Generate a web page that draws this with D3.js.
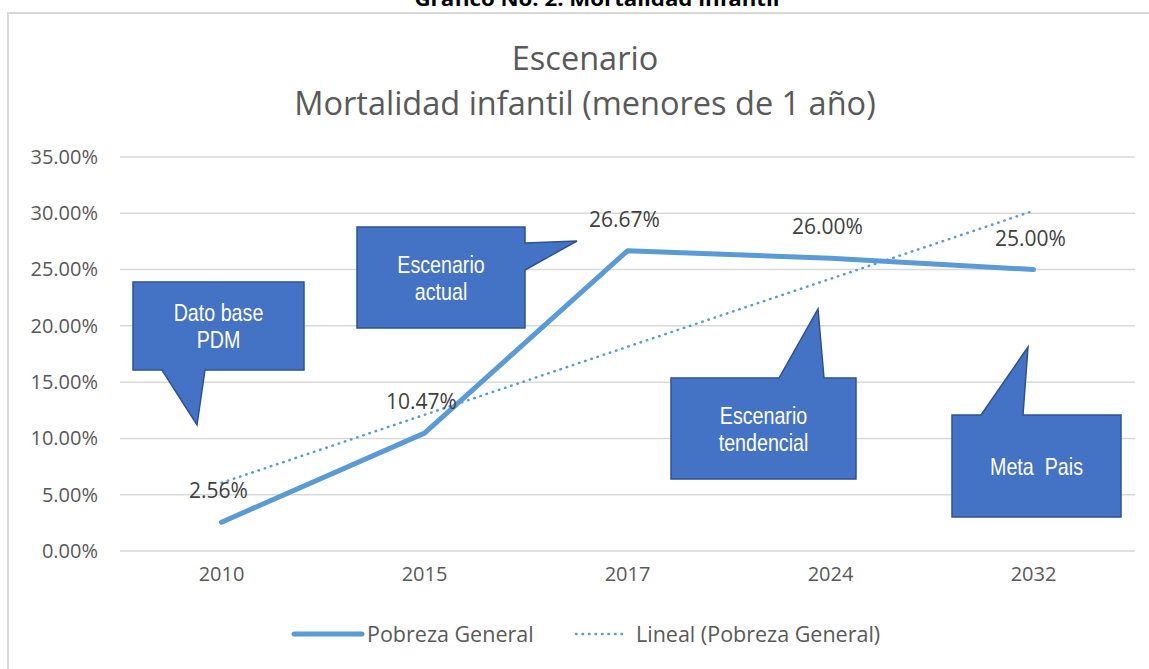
<!DOCTYPE html>
<html>
<head>
<meta charset="utf-8">
<script src="https://cdn.jsdelivr.net/npm/d3@7"></script>
<style>
  body { margin: 0; background: #fff; }
  svg { display: block; }
</style>
</head>
<body>
<script>
const years = ["2010", "2015", "2017", "2024", "2032"];
const pobreza = [2.56, 10.47, 26.67, 26.00, 25.00];
const yTicks = [0, 5, 10, 15, 20, 25, 30, 35];
const titleLines = ["Escenario", "Mortalidad infantil (menores de 1 año)"];
const seriesNames = ["Pobreza General", "Lineal (Pobreza General)"];

// callout shapes (page layout, not data): box + pointer tip
const callouts = [
  { lines: ["Dato base", "PDM"], box: [133, 282, 304, 370], side: "bottom", base: [162, 205], tip: [197, 425] },
  { lines: ["Escenario", "actual"], box: [357, 227, 525, 328], side: "right", base: [243, 270], tip: [577, 241] },
  { lines: ["Escenario", "tendencial"], box: [671, 378, 856, 479], side: "top", base: [779, 824], tip: [818, 309] },
  { lines: ["Meta  Pais"], box: [952, 415, 1121, 517], side: "top", base: [981, 1023], tip: [1028, 347] }
];

const width = 1149, height = 669;
const blue = "#5b9bd5", grey = "#595959";
const font = "'Open Sans', 'Noto Sans', sans-serif";

const svg = d3.select("body").append("svg")
  .attr("width", width)
  .attr("height", height)
  .style("font-family", font);

svg.append("text")
  .attr("x", 597).attr("y", 6)
  .attr("text-anchor", "middle")
  .attr("font-weight", "bold")
  .attr("font-size", 20)
  .attr("textLength", 365)
  .attr("lengthAdjust", "spacingAndGlyphs")
  .attr("fill", "#000")
  .text("Gráfico No. 2. Mortalidad infantil");

// chart frame (runs off the page right and bottom)
svg.append("rect")
  .attr("x", 8).attr("y", 13)
  .attr("width", 1200).attr("height", 700)
  .attr("fill", "none")
  .attr("stroke", "#d9d9d9")
  .attr("stroke-width", 2);

svg.selectAll("text.title")
  .data(titleLines)
  .join("text")
  .attr("class", "title")
  .attr("x", 585)
  .attr("y", (d, i) => 70 + i * 45)
  .attr("text-anchor", "middle")
  .attr("font-size", 32.5)
  .attr("fill", grey)
  .text(d => d);

const x = d3.scaleBand().domain(years).range([120, 1135]);
const y = d3.scaleLinear().domain([0, 35]).range([551, 157]);

// gridlines
svg.append("g")
  .selectAll("line")
  .data(yTicks)
  .join("line")
  .attr("x1", 120).attr("x2", 1135)
  .attr("y1", d => y(d)).attr("y2", d => y(d))
  .attr("stroke", "#d9d9d9")
  .attr("stroke-width", 1.5);

const yAxis = svg.append("g")
  .attr("transform", "translate(104,0)")
  .call(d3.axisLeft(y).tickValues(yTicks).tickSize(0).tickPadding(6)
    .tickFormat(d => d.toFixed(2) + "%"));
yAxis.select(".domain").remove();
yAxis.selectAll("text").attr("font-size", 20).attr("fill", grey).attr("font-family", font);

const xAxis = svg.append("g")
  .attr("transform", "translate(0,567)")
  .call(d3.axisBottom(x).tickSize(0).tickPadding(0));
xAxis.select(".domain").remove();
xAxis.selectAll("text").attr("font-size", 20).attr("fill", grey).attr("font-family", font);

const cx = d => x(d) + x.bandwidth() / 2;

// linear trend
const n = pobreza.length;
const xs = d3.range(1, n + 1);
const mx = d3.mean(xs), my = d3.mean(pobreza);
const slope = d3.sum(xs, (v, i) => (v - mx) * (pobreza[i] - my)) / d3.sum(xs, v => (v - mx) ** 2);
const icpt = my - slope * mx;
const trend = xs.map(v => icpt + slope * v);

svg.append("path")
  .datum(years.map((d, i) => [cx(d), y(trend[i])]))
  .attr("d", d3.line())
  .attr("fill", "none")
  .attr("stroke", blue)
  .attr("stroke-width", 2.5)
  .attr("stroke-linecap", "round")
  .attr("stroke-dasharray", "0.5 6");

svg.append("path")
  .datum(years.map((d, i) => [cx(d), y(pobreza[i])]))
  .attr("d", d3.line())
  .attr("fill", "none")
  .attr("stroke", blue)
  .attr("stroke-width", 5)
  .attr("stroke-linecap", "round")
  .attr("stroke-linejoin", "round");

svg.append("g")
  .selectAll("text")
  .data(pobreza)
  .join("text")
  .attr("x", (d, i) => cx(years[i]) - 3)
  .attr("y", d => y(d) - 24)
  .attr("text-anchor", "middle")
  .attr("font-size", 21)
  .attr("fill", "#404040")
  .text(d => d.toFixed(2) + "%");

// callouts
function calloutPath(c) {
  const [x0, y0, x1, y1] = c.box;
  const p = d3.path();
  p.moveTo(x0, y0);
  if (c.side === "top") {
    p.lineTo(c.base[0], y0); p.lineTo(c.tip[0], c.tip[1]); p.lineTo(c.base[1], y0);
  }
  p.lineTo(x1, y0);
  if (c.side === "right") {
    p.lineTo(x1, c.base[0]); p.lineTo(c.tip[0], c.tip[1]); p.lineTo(x1, c.base[1]);
  }
  p.lineTo(x1, y1);
  if (c.side === "bottom") {
    p.lineTo(c.base[1], y1); p.lineTo(c.tip[0], c.tip[1]); p.lineTo(c.base[0], y1);
  }
  p.lineTo(x0, y1);
  p.closePath();
  return p.toString();
}

const cg = svg.append("g")
  .selectAll("g")
  .data(callouts)
  .join("g");

cg.append("path")
  .attr("d", calloutPath)
  .attr("fill", "#4472c4")
  .attr("stroke", "#2f528f")
  .attr("stroke-width", 1.5);

cg.each(function (c) {
  const [x0, y0, x1, y1] = c.box;
  const mid = (y0 + y1) / 2;
  const lh = 27;
  d3.select(this).selectAll("text")
    .data(c.lines)
    .join("text")
    .attr("transform", (d, i) =>
      `translate(${(x0 + x1) / 2},${mid + (i - (c.lines.length - 1) / 2) * lh}) scale(0.82,1)`)
    .attr("dy", "0.36em")
    .attr("text-anchor", "middle")
    .attr("font-family", "'Liberation Sans', Arial, sans-serif")
    .attr("font-size", 24)
    .attr("fill", "#fff")
    .style("white-space", "pre")
    .text(d => d);
});

// legend
const lg = svg.append("g");
lg.append("line")
  .attr("x1", 294).attr("x2", 362).attr("y1", 634).attr("y2", 634)
  .attr("stroke", blue).attr("stroke-width", 5).attr("stroke-linecap", "round");
lg.append("line")
  .attr("x1", 576).attr("x2", 626).attr("y1", 634).attr("y2", 634)
  .attr("stroke", blue).attr("stroke-width", 2.5)
  .attr("stroke-linecap", "round").attr("stroke-dasharray", "0.5 6");
lg.selectAll("text")
  .data(seriesNames)
  .join("text")
  .attr("x", (d, i) => i === 0 ? 367 : 636)
  .attr("y", 634)
  .attr("dy", "0.36em")
  .attr("font-size", 21.5)
  .attr("fill", grey)
  .text(d => d);
</script>
</body>
</html>
